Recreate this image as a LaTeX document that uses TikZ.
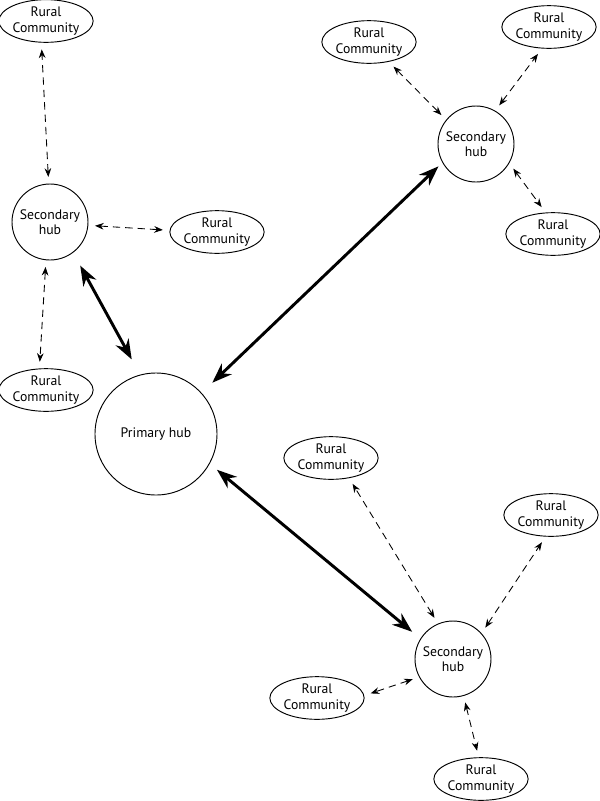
\documentclass[tikz,border=0pt]{standalone}
\usepackage{fontspec}
\setmainfont{PT Sans}
\usetikzlibrary{arrows.meta,shapes.geometric}

\begin{document}
\begin{tikzpicture}[x=0.75pt,y=-0.75pt,
  rural/.style={draw,ellipse,line width=0.7pt,minimum width=69pt,minimum height=32pt,
                inner sep=0pt,align=center,font=\fontsize{10.3}{11.4}\selectfont},
  hub/.style={draw,circle,line width=0.7pt,minimum size=57pt,inner sep=0pt,
              align=center,font=\fontsize{10.3}{11.4}\selectfont},
  primary/.style={hub,minimum size=91.5pt},
  link/.style={{Stealth[length=6.5pt,width=5pt]}-{Stealth[length=6.5pt,width=5pt]},
               dash pattern=on 5.5pt off 3.8pt,line width=0.65pt,shorten <=5pt,shorten >=5pt},
  trunk/.style={{Stealth[length=15pt,width=11pt]}-{Stealth[length=15pt,width=11pt]},
                line width=2.2pt}]
\useasboundingbox (0,0) rectangle (600,801);
% hubs
\node[primary] (prim) at (156,434) {Primary hub};
\node[hub] (hubL)  at (50,222)  {Secondary\\hub};
\node[hub] (hubTR) at (476,144) {Secondary\\hub};
\node[hub] (hubB)  at (453,659) {Secondary\\hub};
% rural communities
\node[rural] (rcA) at (46,21)   {Rural\\Community};
\node[rural] (rcB) at (217,232) {Rural\\Community};
\node[rural] (rcC) at (46,390)  {Rural\\Community};
\node[rural] (rcD) at (369,42)  {Rural\\Community};
\node[rural] (rcE) at (549,27)  {Rural\\Community};
\node[rural] (rcF) at (553,234) {Rural\\Community};
\node[rural] (rcG) at (331,458) {Rural\\Community};
\node[rural] (rcH) at (551,515) {Rural\\Community};
\node[rural] (rcI) at (317,698) {Rural\\Community};
\node[rural] (rcJ) at (481,779) {Rural\\Community};
% hub to hub
\draw[trunk,shorten <=13pt,shorten >=11pt] (prim.105) -- (hubL.-53);
\draw[trunk,shorten <=11pt,shorten >=4pt]  (prim.42)  -- (hubTR.-151);
\draw[trunk,shorten <=7pt,shorten >=8pt]   (prim.-29) -- (hubB.148);
% hub to community
\draw[link] (hubL.92)    -- (rcA.-102);
\draw[link] (hubL.-5)    -- (rcB.178);
\draw[link] (hubL.-96)   -- (rcC.107);
\draw[link] (hubTR.141)  -- (rcD.-45);
\draw[link] (hubTR.60)   -- (rcE.-108);
\draw[link] (hubTR.-30)  -- (rcF.109);
\draw[link] (hubB.113)   -- (rcG.-48);
\draw[link] (hubB.42)    -- (rcH.-104);
\draw[link] (hubB.-152)  -- (rcI.3);
\draw[link] (hubB.-74)   -- (rcJ.96);
\end{tikzpicture}
\end{document}
